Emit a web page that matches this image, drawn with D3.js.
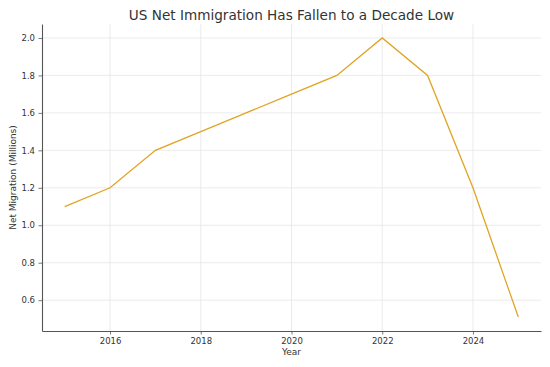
<!DOCTYPE html>
<html><head><meta charset="utf-8">
<script src="https://cdn.jsdelivr.net/npm/d3@7"></script>
<style>body{margin:0;background:#fff}svg{display:block;font-family:"DejaVu Sans",sans-serif}</style>
</head><body><svg id="c" width="550" height="367"></svg>
<script>
const years = [2015,2016,2017,2018,2019,2020,2021,2022,2023,2024,2025];
const netMigration = [1.1,1.2,1.4,1.5,1.6,1.7,1.8,2.0,1.8,1.2,0.51];
const xTicks = [2016,2018,2020,2022,2024];
const yTicks = [0.6,0.8,1.0,1.2,1.4,1.6,1.8,2.0];

const svg = d3.select("#c");
const m = {l:42, r:541, t:24, b:331};
const x = d3.scaleLinear().domain([2014.5,2025.5]).range([m.l,m.r]);
const y = d3.scaleLinear().domain([0.4355,2.0745]).range([m.b,m.t]);

// grid
svg.append("g").selectAll("line").data(xTicks).join("line")
  .attr("x1",d=>x(d)).attr("x2",d=>x(d)).attr("y1",m.t).attr("y2",m.b)
  .attr("stroke","#e6e6e6").attr("stroke-width",0.8);
svg.append("g").selectAll("line").data(yTicks).join("line")
  .attr("y1",d=>y(d)).attr("y2",d=>y(d)).attr("x1",m.l).attr("x2",m.r)
  .attr("stroke","#e6e6e6").attr("stroke-width",0.8);

const xa = svg.append("g").attr("transform",`translate(0,${m.b})`)
  .call(d3.axisBottom(x).tickValues(xTicks).tickFormat(d3.format("d")).tickSizeInner(3.5).tickSizeOuter(0).tickPadding(3.5));
const ya = svg.append("g").attr("transform",`translate(${m.l},0)`)
  .call(d3.axisLeft(y).tickValues(yTicks).tickFormat(d3.format(".1f")).tickSizeInner(3.5).tickSizeOuter(0).tickPadding(3.5));
[xa,ya].forEach(a=>{
  a.select(".domain").attr("stroke","#555").attr("stroke-width",1.1);
  a.selectAll(".tick line").attr("stroke","#555").attr("stroke-width",0.8);
  a.selectAll(".tick text").attr("fill","#333").attr("font-size","8.5px").attr("font-family","DejaVu Sans");
});

svg.append("path").datum(years.map((d,i)=>[d,netMigration[i]]))
  .attr("d",d3.line().x(d=>x(d[0])).y(d=>y(d[1])))
  .attr("fill","none").attr("stroke","#e0a424").attr("stroke-width",1.3);

svg.append("text").attr("x",(m.l+m.r)/2).attr("y",20).attr("text-anchor","middle")
  .attr("font-size","13.6px").attr("fill","#333").text("US Net Immigration Has Fallen to a Decade Low");
svg.append("text").attr("x",(m.l+m.r)/2).attr("y",355).attr("text-anchor","middle")
  .attr("font-size","9px").attr("fill","#333").text("Year");
svg.append("text").attr("transform",`translate(16,${(m.t+m.b)/2}) rotate(-90)`).attr("text-anchor","middle")
  .attr("font-size","9px").attr("fill","#333").text("Net Migration (Millions)");
</script></body></html>
